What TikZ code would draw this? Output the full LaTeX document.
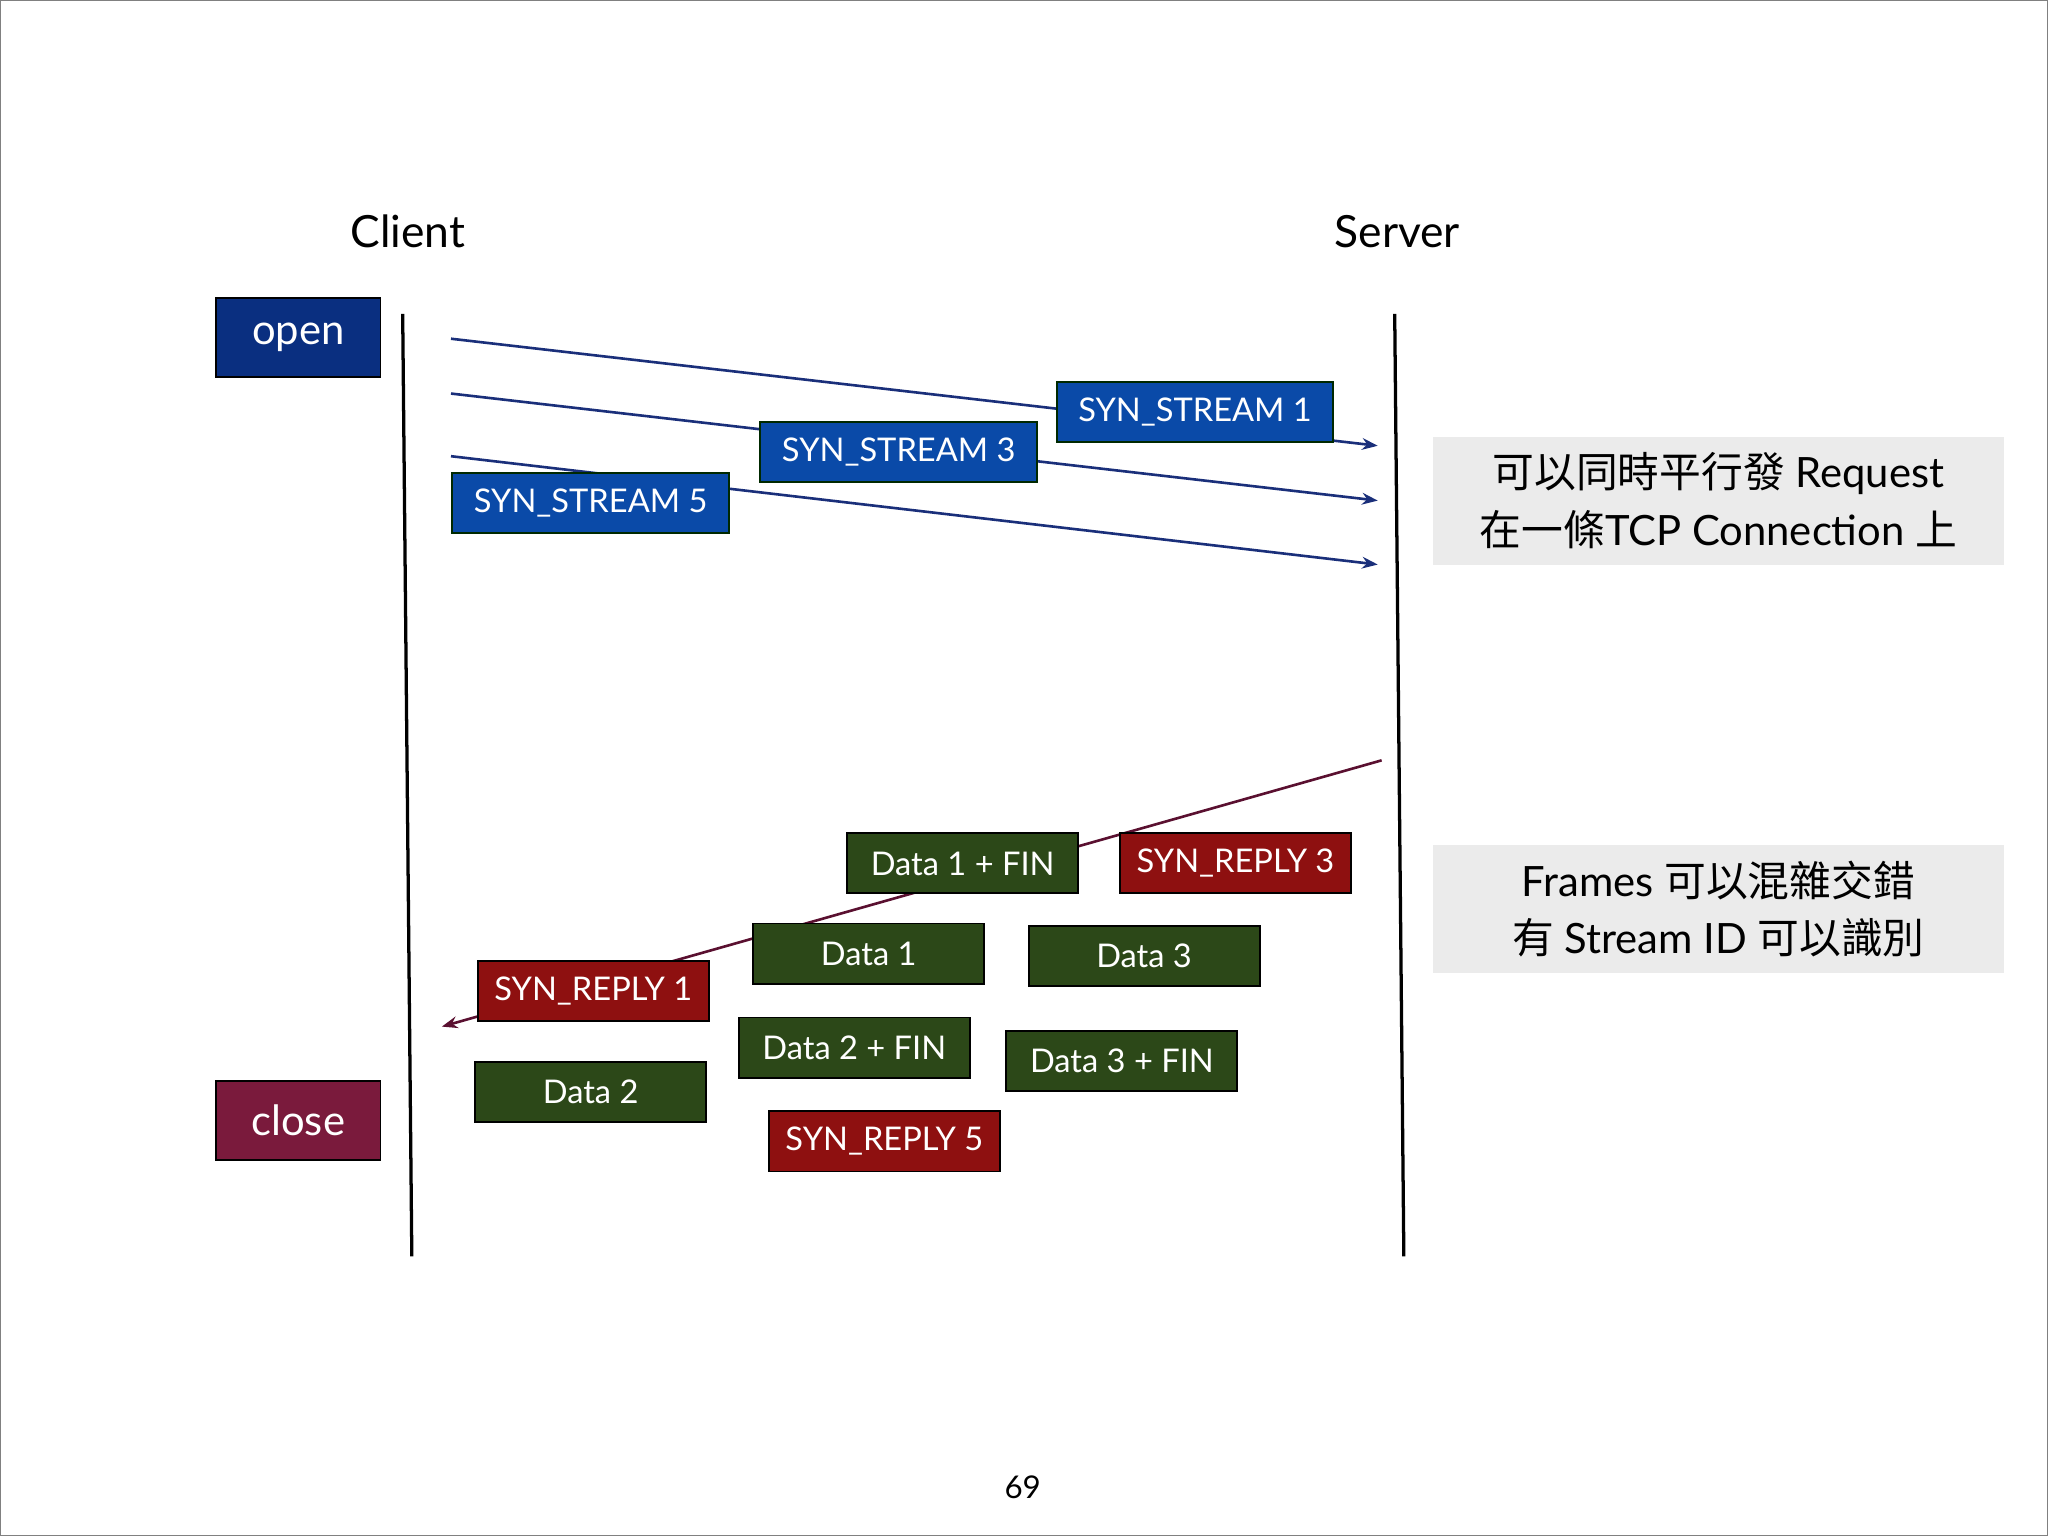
\documentclass[tikz,border=0pt]{standalone}
\usepackage{fontspec}
\setmainfont{Lato}
\newfontfamily\cjk{Noto Sans CJK TC}
\usetikzlibrary{arrows.meta}
\definecolor{openblue}{HTML}{0A2F80}
\definecolor{streamblue}{HTML}{0A4AA8}
\definecolor{boxgreen}{HTML}{2C4818}
\definecolor{boxred}{HTML}{8E1010}
\definecolor{closered}{HTML}{7A1A3C}
\definecolor{arrblue}{HTML}{1A2F7A}
\definecolor{arrred}{HTML}{5A1030}
\definecolor{notegray}{HTML}{EBEBEB}
\tikzset{
  frame/.style={inner sep=0pt, text=white, font=\fontsize{25}{30}\selectfont, line width=1.5pt},
  bigbox/.style={frame, draw=black, minimum width=126pt, minimum height=60pt, font=\fontsize{32}{38}\selectfont},
  sbox/.style={frame, fill=streamblue, draw=black!60!green!40!black, minimum width=212pt, minimum height=46pt},
  gbox/.style={frame, fill=boxgreen, draw=black, minimum width=177pt, minimum height=46pt},
  rbox/.style={frame, fill=boxred, draw=black, minimum width=177pt, minimum height=46pt},
  note/.style={fill=notegray, minimum width=437pt, minimum height=98pt, align=center, font=\fontsize{32}{44}\selectfont},
  msgb/.style={draw=arrblue, line width=2pt, -{Stealth[length=12pt,width=9pt]}},
  msgr/.style={draw=arrred, line width=2pt, -{Stealth[length=12pt,width=9pt]}},
  life/.style={line width=2.5pt}
}
\begin{document}
\begin{tikzpicture}[x=1pt,y=-1pt]
\draw[gray,line width=1pt,fill=white] (0,0) rectangle (1568,1176);
\node[font=\fontsize{34}{40}\selectfont] (client) at (312,177) {Client};
\node[font=\fontsize{34}{40}\selectfont] (server) at (1070,177) {Server};
\coordinate (c1) at (308,240); \coordinate (c2) at (315,962);
\coordinate (s1) at (1068,240); \coordinate (s2) at (1075,962);
\draw[life] (c1) -- (c2);
\draw[life] (s1) -- (s2);
\node[bigbox, fill=openblue] (open) at (228,258) {open};
\node[bigbox, fill=closered] (close) at (228,858) {close};
\coordinate (a1) at (345,259); \coordinate (b1) at (1055,341);
\coordinate (a2) at (345,301); \coordinate (b2) at (1055,383);
\coordinate (a3) at (345,349); \coordinate (b3) at (1055,432);
\draw[msgb] (a1) -- (b1);
\draw[msgb] (a2) -- (b2);
\draw[msgb] (a3) -- (b3);
\coordinate (r1) at (1058,582); \coordinate (r2) at (338,786);
\draw[msgr] (r1) -- (r2);
\node[sbox] (ss1) at (915,315) {SYN\_STREAM 1};
\node[sbox] (ss3) at (688,346) {SYN\_STREAM 3};
\node[sbox] (ss5) at (452,385) {SYN\_STREAM 5};
\node[gbox] (d1f) at (737,661) {Data 1 + FIN};
\node[rbox] (sr3) at (946,661) {SYN\_REPLY 3};
\node[gbox] (d1) at (665,730) {Data 1};
\node[gbox] (d3) at (876,732) {Data 3};
\node[rbox] (sr1) at (454,759) {SYN\_REPLY 1};
\node[gbox] (d2f) at (654,802) {Data 2 + FIN};
\node[gbox] (d3f) at (859,812) {Data 3 + FIN};
\node[gbox] (d2) at (452,836) {Data 2};
\node[rbox] (sr5) at (677,874) {SYN\_REPLY 5};
\node[note] (n1) at (1316,383) {{\cjk 可以同時平行發} Request\\{\cjk 在一條}TCP Connection {\cjk 上}};
\node[note] (n2) at (1316,696) {Frames {\cjk 可以混雜交錯}\\{\cjk 有} Stream ID {\cjk 可以識別}};
\node[font=\fontsize{24}{28}\selectfont] (pg) at (783,1139) {69};
\end{tikzpicture}
\end{document}
